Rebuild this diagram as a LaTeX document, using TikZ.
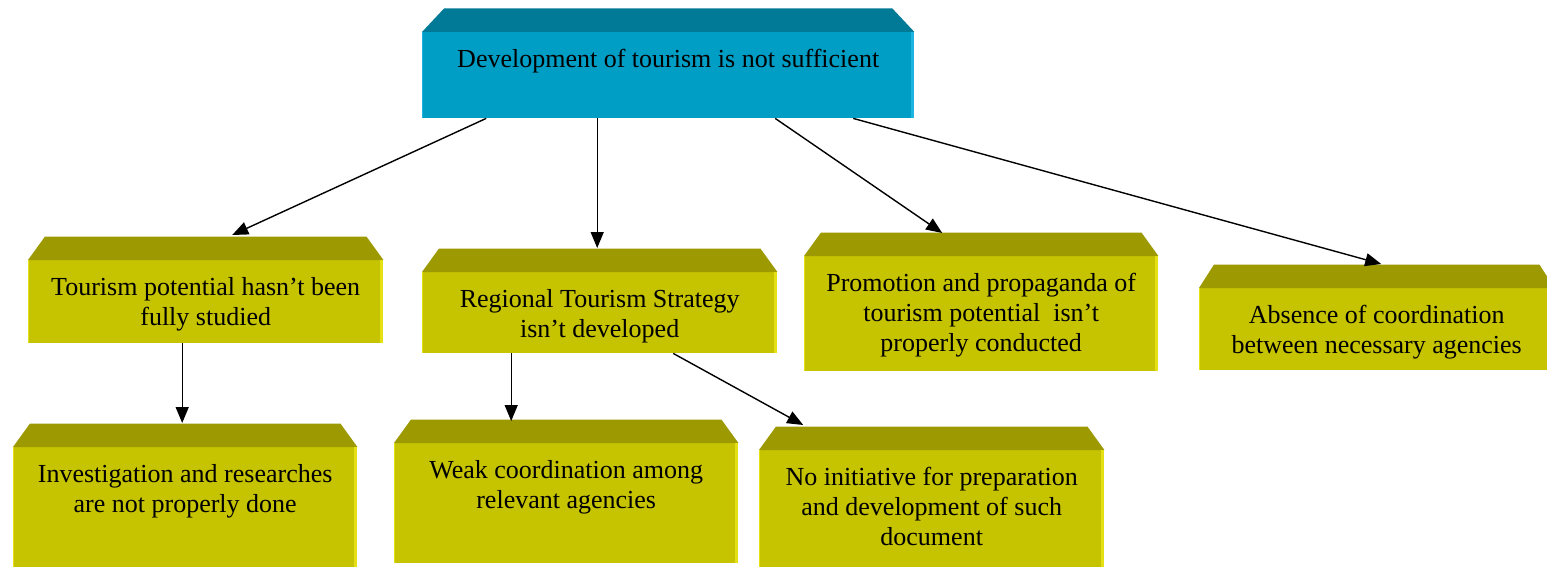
\documentclass[tikz,border=0pt]{standalone}
\usepackage{fontspec}
\setmainfont{Liberation Serif}
\usetikzlibrary{arrows.meta,calc}
\definecolor{yfill}{RGB}{198,195,0}
\definecolor{ybev}{RGB}{156,154,0}
\definecolor{ylight}{RGB}{228,224,20}
\definecolor{bfill}{RGB}{0,157,197}
\definecolor{bbev}{RGB}{0,122,150}
\definecolor{blight}{RGB}{30,180,225}
\tikzset{
  yfront/.style={rectangle, fill=yfill, draw=none, inner sep=0pt},
  bfront/.style={rectangle, fill=bfill, draw=none, inner sep=0pt},
  ybevel/.style={fill=ybev},
  bbevel/.style={fill=bbev},
  ylightedge/.style={fill=ylight},
  blightedge/.style={fill=blight},
  txt/.style={font=\fontsize{26}{30}\selectfont, align=center, inner sep=0pt, text=black},
  conn/.style={-{Triangle[length=16pt,width=13pt]}, line width=1.4pt, black},
}
% #1 name, #2 y/b, #3 x, #4 y, #5 width, #6 height, #7 bevel inset, #8 text
\newcommand\bevbox[8]{%
  \node[#2front, minimum width=#5pt, minimum height=#6pt, anchor=north west] (#1) at (#3,#4) {};
  \fill[#2bevel] (#1.north west) -- ([xshift=#7pt,yshift=23.5pt]#1.north west)
     -- ([xshift=-#7pt,yshift=23.5pt]#1.north east) -- (#1.north east) -- cycle;
  \fill[#2lightedge] ([xshift=-3pt]#1.north east) rectangle (#1.south east);
  \fill[#2lightedge] (#1.north west) rectangle ([xshift=1.2pt]#1.south west);
  \node[txt, anchor=north] (#1t) at ([yshift=-17pt]#1.north) {#8};
}
\begin{document}
\begin{tikzpicture}[x=1pt,y=-1pt]
\clip (0,0) rectangle (1547,567);
\fill[white] (0,0) rectangle (1547,567);

\bevbox{T}{b}{422}{32}{492}{86}{22}{Development of tourism is not sufficient}
\bevbox{A}{y}{28}{260}{355}{83}{17}{Tourism potential hasn’t been\\fully studied}
\bevbox{B}{y}{422}{272}{355}{81}{17}{Regional Tourism Strategy\\isn’t developed}
\bevbox{C}{y}{804}{256}{354}{115}{17}{Promotion and propaganda of\\tourism potential~ isn’t\\properly conducted}
\bevbox{D}{y}{1199}{288}{355}{82}{15}{Absence of coordination\\between necessary agencies}
\bevbox{E}{y}{13}{447}{344}{121}{17}{Investigation and researches\\are not properly done}
\bevbox{F}{y}{394}{443}{344}{120}{17}{Weak coordination among\\relevant agencies}
\bevbox{G}{y}{759}{450}{345}{120}{17}{No initiative for preparation\\and development of such\\document}

\draw[conn] ([xshift=-182pt]T.south) -- ([xshift=26.5pt,yshift=25pt]A.north);
\draw[conn] ([xshift=-71pt]T.south) -- ([xshift=-2.5pt,yshift=24pt]B.north);
\draw[conn] ([xshift=107pt]T.south) -- ([xshift=-39pt,yshift=23pt]C.north);
\draw[conn] ([xshift=185pt]T.south) -- ([xshift=4.5pt,yshift=24pt]D.north);
\draw[conn] ([xshift=-23.5pt]A.south) -- ([xshift=-3pt,yshift=24pt]E.north);
\draw[conn] ([xshift=-88.5pt]B.south) -- ([xshift=-55pt,yshift=22pt]F.north);
\draw[conn] ([xshift=73.5pt]B.south) -- ([xshift=-128.5pt,yshift=25pt]G.north);
\end{tikzpicture}
\end{document}
